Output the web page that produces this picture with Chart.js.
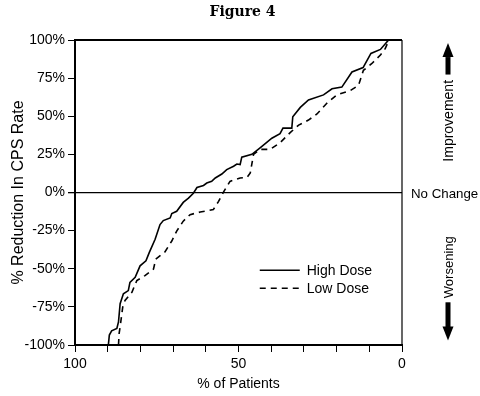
<!DOCTYPE html>
<html>
<head>
<meta charset="utf-8">
<script src="https://cdn.jsdelivr.net/npm/chart.js@4.4.1/dist/chart.umd.min.js"></script>
<style>
  html, body { margin: 0; padding: 0; background: #fff; }
  canvas { display: block; }
</style>
</head>
<body>
<canvas id="myChart" width="480" height="396" style="width:480px;height:396px"></canvas>
<script>
// % of Patients (x) and % Reduction in CPS Rate (y)
const highDoseX = [89.8, 89.5, 88.8, 87.2, 86.7, 86.2, 85.2, 83.7, 83.2, 81.6, 80.1, 78.3, 77.3, 75.5, 74.0, 73.0, 70.9, 70.4, 68.9, 66.9, 65.3, 63.8, 62.7, 60.7, 59.7, 58.2, 57.1, 55.1, 53.6, 51.5, 50.5, 49.5, 49.0, 45.9, 43.4, 39.8, 37.3, 36.4, 33.7, 33.4, 31.1, 28.6, 24.0, 21.4, 18.4, 15.3, 11.9, 9.5, 6.6, 4.1]
const highDoseY = [-100, -93.5, -90.7, -89.2, -84.9, -72.9, -66.4, -64.3, -58.9, -55.6, -48.1, -44.8, -39.4, -30.7, -21.0, -18.4, -16.7, -13.8, -12.3, -6.5, -3.7, -0.5, 3.3, 4.6, 6.2, 7.3, 9.5, 12.1, 15.0, 17.2, 18.7, 18.3, 23.2, 25.0, 29.3, 35.6, 38.6, 42.2, 42.2, 49.7, 55.8, 60.7, 64.0, 68.0, 69.1, 79.0, 81.9, 91.2, 93.8, 100]

const lowDoseX = [86.7, 86.5, 86.2, 85.4, 84.7, 82.6, 81.1, 78.6, 76.0, 75.3, 72.5, 70.4, 68.9, 66.9, 64.8, 61.7, 57.7, 56.1, 54.6, 52.6, 49.5, 47.4, 46.4, 45.4, 43.4, 40.3, 37.3, 34.2, 31.6, 28.6, 26.0, 23.0, 19.9, 15.8, 13.3, 11.8, 9.2, 6.6, 5.1, 4.2]
const lowDoseY = [-100, -92.4, -88.1, -75.1, -70.8, -65.4, -57.8, -54.5, -50.2, -43.7, -39.0, -31.8, -25.3, -18.8, -14.5, -12.8, -11.2, -5.8, 0.2, 7.3, 9.5, 9.9, 12.8, 25.0, 28.3, 28.3, 32.6, 39.3, 44.2, 47.5, 51.5, 58.5, 64.0, 66.9, 70.2, 80.1, 84.6, 90.1, 94.5, 99]

const xTickLabels = [100, 50, 0]
const seriesNames = ['High Dose', 'Low Dose']

const sans = "'Liberation Sans', Arial, sans-serif"

const toPoints = (xs, ys) => xs.map((x, i) => ({x: x, y: ys[i]}))

// title, frame, legend and the side notes
const extras = {
    id: 'extras',
    afterDraw(chart) {
        const c = chart.ctx
        const a = chart.chartArea
        const yScale = chart.scales.y
        c.save()

        c.fillStyle = '#000'
        c.textAlign = 'center'
        c.textBaseline = 'middle'
        c.font = 'bold 14px "DejaVu Serif", serif'
        c.fillText('Figure 4', (a.left + a.right) / 2 + 4, 12)

        c.strokeStyle = '#000'
        c.lineWidth = 2
        c.beginPath()
        c.moveTo(a.left, a.top)
        c.lineTo(a.right, a.top)
        c.stroke()
        c.lineWidth = 1.2
        c.beginPath()
        c.moveTo(a.right, a.top)
        c.lineTo(a.right, a.bottom)
        c.stroke()

        // legend
        c.font = '14px ' + sans
        c.textAlign = 'left'
        const lx = a.left + (a.right - a.left) * 0.565
        chart.data.datasets.forEach((ds, i) => {
            const ly = a.top + (a.bottom - a.top) * 0.755 + i * 18
            c.lineWidth = ds.borderWidth
            c.setLineDash(ds.borderDash || [])
            c.beginPath()
            c.moveTo(lx, ly)
            c.lineTo(lx + 40, ly)
            c.stroke()
            c.setLineDash([])
            c.fillText(ds.label, lx + 47, ly + 1)
        })

        // side notes
        const cx = a.right + 46
        c.font = '13.3px ' + sans
        c.fillText('No Change', a.right + 9, yScale.getPixelForValue(0) + 2)

        const vText = (txt, y) => {
            c.save()
            c.translate(cx, y)
            c.rotate(-Math.PI / 2)
            c.textAlign = 'center'
            c.fillText(txt, 0, 1)
            c.restore()
        }
        c.font = '14px ' + sans
        vText('Improvement', yScale.getPixelForValue(47))
        c.font = '13px ' + sans
        vText('Worsening', yScale.getPixelForValue(-49))

        const arrow = (tipY, baseY, dir) => {
            const headEnd = tipY + dir * 14
            c.fillRect(cx - 2.5, Math.min(baseY, headEnd), 5, Math.abs(baseY - headEnd) + 1)
            c.beginPath()
            c.moveTo(cx, tipY)
            c.lineTo(cx - 5.5, headEnd)
            c.lineTo(cx + 5.5, headEnd)
            c.closePath()
            c.fill()
        }
        arrow(yScale.getPixelForValue(98), yScale.getPixelForValue(78), 1)
        arrow(yScale.getPixelForValue(-97), yScale.getPixelForValue(-72), -1)
        c.restore()
    }
}

const ctx = document.getElementById('myChart').getContext('2d')
const chart = new Chart(ctx, {
    type: 'line',
    data: {
        datasets: [{
            label: seriesNames[0],
            data: toPoints(highDoseX, highDoseY),
            borderColor: '#000',
            borderWidth: 1.6,
            fill: false
        }, {
            label: seriesNames[1],
            data: toPoints(lowDoseX, lowDoseY),
            borderColor: '#000',
            borderWidth: 1.6,
            borderDash: [6, 5],
            fill: false
        }]
    },
    options: {
        responsive: false,
        animation: false,
        layout: {padding: {left: 2, right: 78, top: 40, bottom: 0}},
        elements: {point: {radius: 0}, line: {tension: 0}},
        plugins: {
            legend: {display: false},
            tooltip: {enabled: false},
            title: {display: false}
        },
        scales: {
            x: {
                type: 'linear',
                reverse: true,
                min: 0,
                max: 100,
                border: {display: true, color: '#000', width: 2},
                grid: {drawOnChartArea: false, color: '#000', tickColor: '#000', tickLength: 7, lineWidth: 1},
                ticks: {
                    stepSize: 10,
                    autoSkip: false,
                    maxRotation: 0,
                    color: '#000',
                    padding: 4,
                    font: {family: sans, size: 14},
                    callback: v => xTickLabels.includes(v) ? String(v) : ''
                },
                title: {
                    display: true,
                    text: '% of Patients',
                    color: '#000',
                    font: {family: sans, size: 14},
                    padding: {top: 0, bottom: 3}
                },
                afterFit: s => { s.height = 51 }
            },
            y: {
                min: -100,
                max: 100,
                border: {display: true, color: '#000', width: 2},
                grid: {
                    drawOnChartArea: true,
                    color: c => c.tick && c.tick.value === 0 ? '#000' : 'rgba(0,0,0,0)',
                    tickColor: '#000',
                    tickLength: 7,
                    lineWidth: c => c.tick && c.tick.value === 0 ? 1.3 : 1
                },
                ticks: {
                    stepSize: 25,
                    color: '#000',
                    padding: 3,
                    font: {family: sans, size: 14},
                    callback: v => v + '%'
                },
                title: {
                    display: true,
                    text: '% Reduction In CPS Rate',
                    color: '#000',
                    font: {family: sans, size: 16},
                    padding: {top: 7, bottom: 0}
                },
                afterFit: s => { s.width = 73 }
            }
        }
    },
    plugins: [extras]
})
</script>
</body>
</html>
